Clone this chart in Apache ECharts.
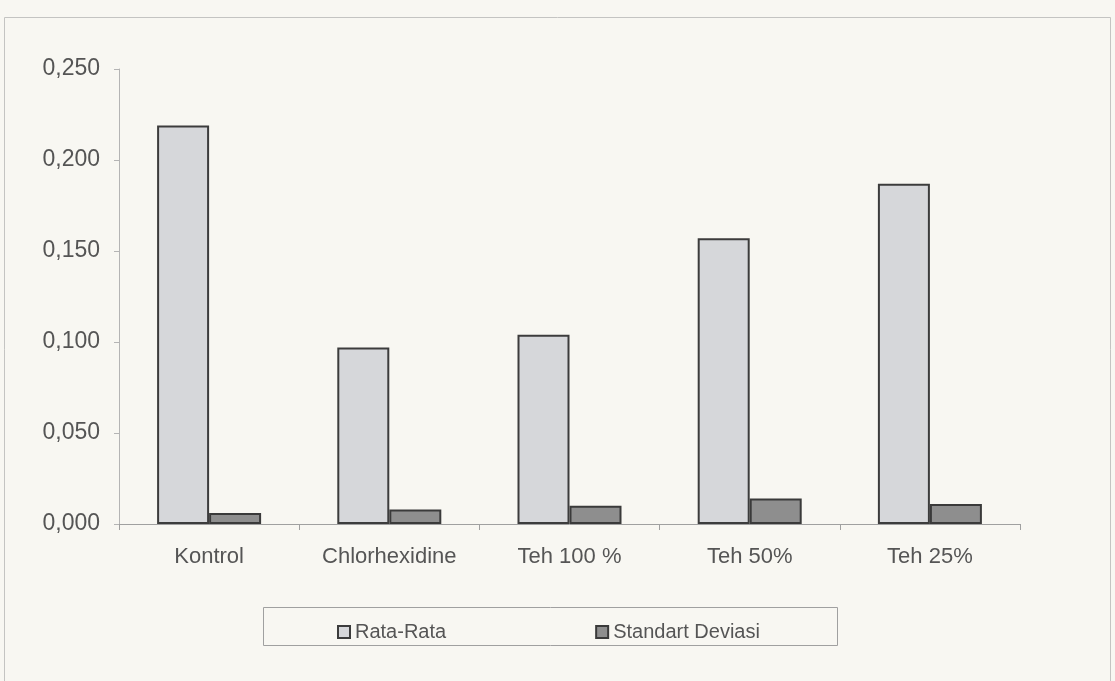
<!DOCTYPE html>
<html>
<head>
<meta charset="utf-8">
<style>
  html, body { margin: 0; padding: 0; background: #f8f7f2; }
  #chart { width: 1115px; height: 681px; }
</style>
<script src="https://cdn.jsdelivr.net/npm/echarts@6/dist/echarts.min.js"></script>
</head>
<body>
<div id="chart"></div>
<script>
// Kategori perlakuan
const categories = ['Kontrol', 'Chlorhexidine', 'Teh 100 %', 'Teh 50%', 'Teh 25%'];
// Nilai rata-rata dan standar deviasi tiap perlakuan
const rataRata = [0.219, 0.097, 0.104, 0.157, 0.187];
const standartDeviasi = [0.006, 0.008, 0.010, 0.014, 0.011];
// Label sumbu Y
const yTicks = ['0,000', '0,050', '0,100', '0,150', '0,200', '0,250'];

const textColor = '#555555';
const font = 'Liberation Sans, Arial, sans-serif';

const chart = echarts.init(document.getElementById('chart'));
chart.setOption({
  backgroundColor: '#f8f7f2',
  animation: false,
  grid: { left: 119, right: 95, top: 69, bottom: 157 },
  legend: {
    left: 332,
    top: 617,
    itemGap: 149,
    itemWidth: 12,
    itemHeight: 12,
    icon: 'rect',
    textStyle: { color: textColor, fontFamily: font, fontSize: 20 },
    data: ['Rata-Rata', 'Standart Deviasi']
  },
  graphic: [
    {
      type: 'rect',
      shape: { x: 263.5, y: 607.5, width: 574, height: 38 },
      style: { fill: 'none', stroke: '#a0a0a0', lineWidth: 1 },
      silent: true
    },
    {
      type: 'rect',
      shape: { x: 4.5, y: 17.5, width: 1106, height: 700 },
      style: { fill: 'none', stroke: '#c4c4c2', lineWidth: 1 },
      silent: true
    }
  ],
  xAxis: {
    type: 'category',
    data: categories,
    axisLine: { lineStyle: { color: '#a0a0a0', width: 1 } },
    axisTick: { show: true, length: 6, lineStyle: { color: '#a0a0a0' } },
    axisLabel: { color: textColor, fontFamily: font, fontSize: 22, margin: 22 }
  },
  yAxis: {
    type: 'value',
    min: 0,
    max: 0.25,
    interval: 0.05,
    axisLine: { show: true, lineStyle: { color: '#b4b4b4', width: 1 } },
    axisTick: { show: true, length: 5, lineStyle: { color: '#b4b4b4' } },
    splitLine: { show: false },
    axisLabel: {
      color: textColor,
      fontFamily: font,
      fontSize: 23,
      margin: 19,
      formatter: (v) => yTicks[Math.round(v / 0.05)]
    }
  },
  series: [
    {
      name: 'Rata-Rata',
      type: 'bar',
      data: rataRata,
      barWidth: 52,
      barGap: '0%',
      itemStyle: { color: '#d6d7da', borderColor: '#3c3c3c', borderWidth: 2 }
    },
    {
      name: 'Standart Deviasi',
      type: 'bar',
      data: standartDeviasi,
      barWidth: 52,
      itemStyle: { color: '#8e8e8e', borderColor: '#3a3a3a', borderWidth: 2 }
    }
  ]
});
</script>
</body>
</html>
